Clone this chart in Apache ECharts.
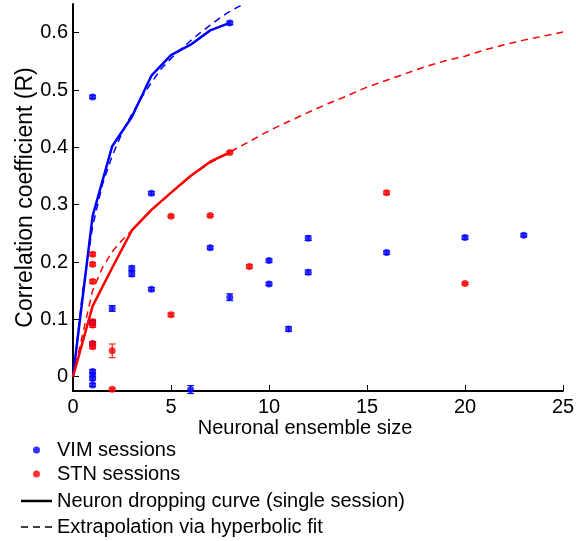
<!DOCTYPE html>
<html><head><meta charset="utf-8">
<script src="https://cdn.jsdelivr.net/npm/echarts@6/dist/echarts.min.js"></script>
<style>html,body{margin:0;padding:0;background:#fff}#c{width:576px;height:541px}</style>
</head><body><div id="c"></div>
<script>
// ---- data ----
const xTicks = [0, 5, 10, 15, 20, 25];
const yTicks = [0, 0.1, 0.2, 0.3, 0.4, 0.5, 0.6];

// VIM sessions (x = ensemble size, y = R, err = half error bar)
const vimX   = [1, 1, 1, 1, 1, 1, 1, 2, 3, 3, 4, 4, 6, 7, 8, 8, 10, 10, 11, 12, 12, 16, 20, 23];
const vimY   = [0.488, 0.094, 0.057, 0.009, 0.003, -0.003, -0.0145, 0.119, 0.189, 0.179, 0.320, 0.1525, -0.0225, 0.225, 0.1386, 0.617, 0.2025, 0.1618, 0.0832, 0.2415, 0.182, 0.2164, 0.2426, 0.2468];
const vimErr = [0.003, 0.004, 0.003, 0.003, 0.003, 0.003, 0.003, 0.005, 0.004, 0.004, 0.003, 0.003, 0.007, 0.003, 0.006, 0.003, 0.003, 0.003, 0.004, 0.004, 0.004, 0.003, 0.003, 0.003];

// STN sessions
const stnX   = [1, 1, 1, 1, 1, 1, 1, 2, 2, 5, 5, 7, 8, 9, 16, 20];
const stnY   = [0.2136, 0.196, 0.166, 0.096, 0.090, 0.058, 0.052, 0.045, -0.022, 0.280, 0.108, 0.281, 0.391, 0.192, 0.321, 0.1623];
const stnErr = [0.003, 0.003, 0.003, 0.004, 0.004, 0.003, 0.003, 0.012, 0.002, 0.002, 0.003, 0.002, 0.002, 0.003, 0.003, 0.002];

// Neuron dropping curves (single session)
const vimCurveX = [0, 1, 2, 3, 4, 5, 6, 7, 8];
const vimCurveY = [0, 0.28, 0.402, 0.453, 0.525, 0.561, 0.579, 0.604, 0.617];
const stnCurveX = [0, 1, 2, 3, 4, 5, 6, 7, 8];
const stnCurveY = [0, 0.123, 0.19, 0.255, 0.291, 0.321, 0.35, 0.375, 0.391];

// Extrapolation via hyperbolic fit
const vimFitX = [0, 0.5, 1, 1.5, 2, 2.5, 3, 3.5, 4, 4.5, 5, 5.5, 6, 6.5, 7, 7.5, 8, 8.7];
const vimFitY = [0, 0.15, 0.262, 0.335, 0.385, 0.425, 0.458, 0.487, 0.513, 0.537, 0.555, 0.571, 0.586, 0.600, 0.613, 0.626, 0.637, 0.650];
const stnFitX = [0, 0.5, 1, 1.5, 2, 2.5, 3, 4, 5, 6, 7, 8, 9, 10, 11, 12, 13, 14, 15, 16, 17, 18, 19, 20, 21, 22, 23, 24, 25];
const stnFitY = [0, 0.075, 0.15, 0.19, 0.218, 0.238, 0.255, 0.29, 0.32, 0.35, 0.373, 0.392, 0.41, 0.429, 0.445, 0.461, 0.476, 0.49, 0.505, 0.517, 0.529, 0.541, 0.551, 0.559, 0.570, 0.579, 0.587, 0.594, 0.601];

// ---- chart ----
const FONT = "'Liberation Sans', Arial, Helvetica, sans-serif";
const BLUE = '#0000ff', RED = '#ff0000';
const zip2 = (a, b) => a.map((v, i) => [v, b[i]]);
const zip3 = (a, b, c) => a.map((v, i) => [v, b[i], c[i]]);

// legend icons: a dot centred in a wide box, a solid bar, a dashed bar
const DOT_ICON = 'path://M0,3.5L0.01,3.5ZM31,3.5L30.99,3.5ZM12,3.5A3.5,3.5,0,1,0,19,3.5A3.5,3.5,0,1,0,12,3.5Z';
const SOLID_ICON = 'path://M0,0H31V2.5H0Z';
const DASH_ICON = 'path://M0,0H7V1.6H0ZM12,0H19V1.6H12ZM24,0H31V1.6H24Z';

function errRender(color) {
  return function (params, api) {
    const x = api.value(0), y = api.value(1), e = api.value(2);
    const lo = api.coord([x, y - e]), hi = api.coord([x, y + e]);
    const hw = 3.5;
    const style = { stroke: color, lineWidth: 1 };
    return { type: 'group', children: [
      { type: 'line', shape: { x1: lo[0], y1: lo[1], x2: hi[0], y2: hi[1] }, style: style },
      { type: 'line', shape: { x1: lo[0] - hw, y1: lo[1], x2: lo[0] + hw, y2: lo[1] }, style: style },
      { type: 'line', shape: { x1: hi[0] - hw, y1: hi[1], x2: hi[0] + hw, y2: hi[1] }, style: style }
    ]};
  };
}

const chart = echarts.init(document.getElementById('c'), null, { renderer: 'canvas' });
chart.setOption({
  animation: false,
  backgroundColor: '#ffffff',
  textStyle: { fontFamily: FONT },
  grid: { left: 73, right: 13, top: 4, bottom: 150, containLabel: false, outerBoundsMode: 'none' },
  xAxis: {
    type: 'value', min: 0, max: 25, interval: 5,
    name: 'Neuronal ensemble size', nameLocation: 'middle', nameGap: 27, nameMoveOverlap: false,
    nameTextStyle: { fontSize: 20, color: '#000', fontFamily: FONT, padding: [0, 26, 0, 0] },
    axisLine: { onZero: false, lineStyle: { color: '#000', width: 2 } },
    axisTick: { inside: true, length: 6, lineStyle: { color: '#000', width: 1 }, customValues: xTicks },
    axisLabel: { fontSize: 20, color: '#000', margin: 6, fontFamily: FONT, customValues: xTicks },
    splitLine: { show: false }
  },
  yAxis: {
    type: 'value', min: -0.025, max: 0.65,
    name: 'Correlation coefficient (R)', nameLocation: 'middle', nameGap: 36, nameMoveOverlap: false,
    nameTextStyle: { fontSize: 23, color: '#000', fontFamily: FONT },
    axisLine: { onZero: false, lineStyle: { color: '#000', width: 2 } },
    axisTick: { inside: true, length: 6, lineStyle: { color: '#000', width: 1 }, customValues: yTicks },
    axisLabel: { fontSize: 20, color: '#000', margin: 5, fontFamily: FONT, customValues: yTicks,
      formatter: v => String(parseFloat(v.toFixed(1))) },
    splitLine: { show: false }
  },
  legend: [
    { orient: 'vertical', left: 21, top: 440, padding: 0, itemGap: 4,
      itemWidth: 31, itemHeight: 7, selectedMode: false,
      textStyle: { fontSize: 20, color: '#000', fontFamily: FONT, lineHeight: 20 },
      data: [{ name: 'VIM sessions', icon: DOT_ICON }, { name: 'STN sessions', icon: DOT_ICON }] },
    { orient: 'vertical', left: 21, top: 491, padding: 0, itemGap: 6,
      itemWidth: 31, itemHeight: 14, selectedMode: false,
      textStyle: { fontSize: 20, color: '#000', fontFamily: FONT, lineHeight: 20 },
      data: [{ name: 'Neuron dropping curve (single session)', icon: SOLID_ICON, itemHeight: 2.5 },
             { name: 'Extrapolation via hyperbolic fit', icon: DASH_ICON }] }
  ],
  series: [
    { name: 'VIM fit', type: 'line', data: zip2(vimFitX, vimFitY), symbol: 'none', smooth: false,
      lineStyle: { color: BLUE, width: 1.5, type: [7, 5] }, z: 2 },
    { name: 'STN fit', type: 'line', data: zip2(stnFitX, stnFitY), symbol: 'none',
      lineStyle: { color: RED, width: 1.5, type: [7, 5] }, z: 2 },
    { name: 'VIM curve', type: 'line', data: zip2(vimCurveX, vimCurveY), symbol: 'none',
      lineStyle: { color: BLUE, width: 2.5 }, z: 3 },
    { name: 'STN curve', type: 'line', data: zip2(stnCurveX, stnCurveY), symbol: 'none',
      lineStyle: { color: RED, width: 2.5 }, z: 3 },
    { name: 'VIM err', type: 'custom', renderItem: errRender(BLUE), data: zip3(vimX, vimY, vimErr), z: 4, silent: true },
    { name: 'STN err', type: 'custom', renderItem: errRender(RED), data: zip3(stnX, stnY, stnErr), z: 4, silent: true },
    { name: 'VIM sessions', type: 'scatter', data: zip2(vimX, vimY), symbol: 'circle', symbolSize: 7,
      itemStyle: { color: BLUE }, z: 5 },
    { name: 'STN sessions', type: 'scatter', data: zip2(stnX, stnY), symbol: 'circle', symbolSize: 7,
      itemStyle: { color: RED }, z: 5 },
    { name: 'Neuron dropping curve (single session)', type: 'line', data: [], symbol: 'none',
      itemStyle: { color: '#000' }, lineStyle: { color: '#000', width: 2.5 } },
    { name: 'Extrapolation via hyperbolic fit', type: 'line', data: [], symbol: 'none',
      itemStyle: { color: '#000' }, lineStyle: { color: '#000', width: 1.5, type: [6, 5] } }
  ]
});
</script>
</body></html>
